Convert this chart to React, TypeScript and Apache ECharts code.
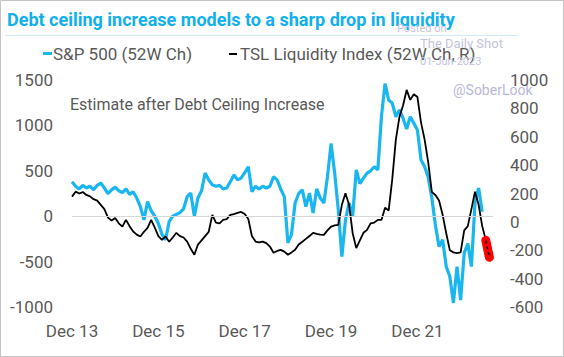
import React, { useEffect, useRef } from "react";
import * as echarts from "echarts";

// months since Dec 2013
const xTickLabels = ["Dec 13", "Dec 15", "Dec 17", "Dec 19", "Dec 21", "Dec 23"];

const spx52w = [
  380, 330, 300, 340, 310, 330, 290, 340, 365, 310, 250, 290,
  320, 280, 260, 300, 240, 270, 200, 105, -40, 160, 60, 0,
  -80, -200, -260, -60, 0, 20, 40, 80, 215, 255, 0, 200,
  280, 475, 400, 345, 330, 340, 300, 310, 380, 455, 400, 420,
  480, 545, 270, 330, 300, 330, 310, 330, 435, 400, 300, 215,
  -295, -200, 145, 250, 290, 105, 255, 35, 300, 200, 145, 435,
  800, 475, 70, -445, -40, 145, 0, 510, 360, 420, 475, 500,
  545, 510, 1100, 1460, 1280, 1245, 1095, 1170, 1080, 960, 1095, 1025,
  950, 620, 545, 430, 200, -100, -335, -260, -555, -665, -955, -555,
  -925, -405, -300, -555, 150, 310, 50,
];

const tsl52w = [
  178, 213, 200, 210, 190, 180, 160, 150, 120, 90, 30, 10,
  28, -10, -33, 14, -30, -68, -90, -103, -70, -42, 14, -40,
  -100, -127, -103, -140, -110, -77, -100, -110, -139, -190, -232, -160,
  -130, -100, -70, 49, -5, -10, 14, 20, 49, 55, 63, 70,
  55, 20, -100, -139, -145, -139, -150, -174, -218, -205, -197, -210,
  -232, -215, -197, -160, -140, -120, -100, -77, -85, -90, -92, -60,
  -33, -25, -21, 120, 202, 120, -80, -185, -130, -77, -56, -10,
  -5, 14, 14, 100, 80, 300, 580, 740, 820, 930, 860, 900,
  880, 700, 580, 420, 210, 190, 150, 50, -80, -200, -215, -220,
  -215, -60, -30, 90, 213, 120, -30, -127,
];

// estimate after debt ceiling increase: [month, value]
const estimateMonths = [115, 116];
const estimateValues = [-130, -250];

const leftTicks = [-1000, 1500, 500];
const rightTicks = [-600, 1000, 200];

export default function App() {
  const ref = useRef<HTMLDivElement>(null);
  useEffect(() => {
    document.body.style.margin = "0";
    const chart = echarts.init(ref.current!, null, { renderer: "svg" });
    const font = "Roboto";
    const gray = "#595959";
    const blue = "#1AB6F0";
    const plain = (v: number) => String(v);
    chart.setOption({
      animation: false,
      backgroundColor: "#fff",
      grid: { left: 72, right: 71, top: 80, bottom: 50 },
      xAxis: {
        type: "value",
        min: 0,
        max: 117,
        interval: 24,
        axisLine: { show: false },
        axisTick: { show: false },
        splitLine: { show: false },
        axisLabel: {
          margin: 15,
          color: gray,
          fontFamily: font,
          fontSize: 17,
          formatter: (v: number) => xTickLabels[Math.round(v / 24)] ?? "",
          showMaxLabel: false,
        },
      },
      yAxis: [
        {
          type: "value",
          min: leftTicks[0],
          max: leftTicks[1],
          interval: leftTicks[2],
          axisLine: { show: false },
          axisTick: { show: false },
          splitLine: { show: false },
          axisLabel: { margin: 19, color: gray, fontFamily: font, fontSize: 17, formatter: plain },
        },
        {
          type: "value",
          min: rightTicks[0],
          max: rightTicks[1],
          interval: rightTicks[2],
          axisLine: { show: false },
          axisTick: { show: false },
          splitLine: { show: false },
          axisLabel: { margin: 17, color: gray, fontFamily: font, fontSize: 17, formatter: plain },
        },
      ],
      series: [
        {
          type: "line",
          yAxisIndex: 0,
          data: spx52w.map((v, i) => [i, v]),
          showSymbol: false,
          lineStyle: { color: blue, width: 3.2 },
          markLine: {
            silent: true,
            symbol: "none",
            label: { show: false },
            lineStyle: { color: "#d6d6d6", width: 1, type: "solid" },
            data: [{ yAxis: 0 }],
          },
          z: 2,
        },
        {
          type: "line",
          yAxisIndex: 1,
          data: tsl52w.map((v, i) => [i, v]),
          showSymbol: false,
          lineStyle: { color: "#000", width: 1.8 },
          z: 3,
        },
        {
          type: "line",
          yAxisIndex: 1,
          data: estimateMonths.map((m, i) => [m, estimateValues[i]]),
          showSymbol: false,
          lineStyle: { color: "#FF0000", width: 9, cap: "round" },
          z: 4,
        },
        {
          type: "line",
          yAxisIndex: 1,
          data: estimateMonths.map((m, i) => [m, estimateValues[i]]),
          showSymbol: false,
          lineStyle: { color: "#000", width: 1.5, type: [3, 3] },
          z: 5,
        },
      ],
      graphic: [
        { type: "rect", shape: { x: 0.5, y: 0.5, width: 563, height: 356 }, style: { fill: "none", stroke: "#c4c4c4", lineWidth: 1 } },
        { type: "text", x: 7, y: 19, style: { text: "Debt ceiling increase models to a sharp drop in liquidity", fill: "#10B0EE", font: "bold 18px Roboto", textVerticalAlign: "middle" } },
        { type: "rect", shape: { x: 5, y: 35, width: 513, height: 1 }, style: { fill: "#cfeaf8" } },
        { type: "rect", shape: { x: 43, y: 52, width: 9, height: 3 }, style: { fill: blue } },
        { type: "text", x: 53, y: 54, style: { text: "S&P 500 (52W Ch)", fill: gray, font: "17px Roboto", textVerticalAlign: "middle" } },
        { type: "rect", shape: { x: 229, y: 53, width: 8, height: 2 }, style: { fill: "#000" } },
        { type: "text", x: 240, y: 54, style: { text: "TSL Liquidity Index (52W Ch, R)", fill: gray, font: "17px Roboto", textVerticalAlign: "middle" } },
        { type: "text", x: 70, y: 104, style: { text: "Estimate after Debt Ceiling Increase", fill: gray, font: "16px Roboto", textVerticalAlign: "middle" } },
        { type: "text", x: 397, y: 28, style: { text: "Posted on", fill: "#c4c4dc", font: "11px Roboto", textVerticalAlign: "middle" } },
        { type: "text", x: 420, y: 43, style: { text: "The Daily Shot", fill: "#c4c4dc", font: "13px Roboto", textVerticalAlign: "middle" } },
        { type: "text", x: 420, y: 61, style: { text: "01-Jun-2023", fill: "#c4c4dc", font: "11px Roboto", textVerticalAlign: "middle" } },
        { type: "text", x: 453, y: 90, style: { text: "@SoberLook", fill: "#b8b8d8", font: "14px Roboto", textVerticalAlign: "middle" } },
      ],
    });
    return () => chart.dispose();
  }, []);
  return <div ref={ref} style={{ width: 564, height: 357 }} />;
}
